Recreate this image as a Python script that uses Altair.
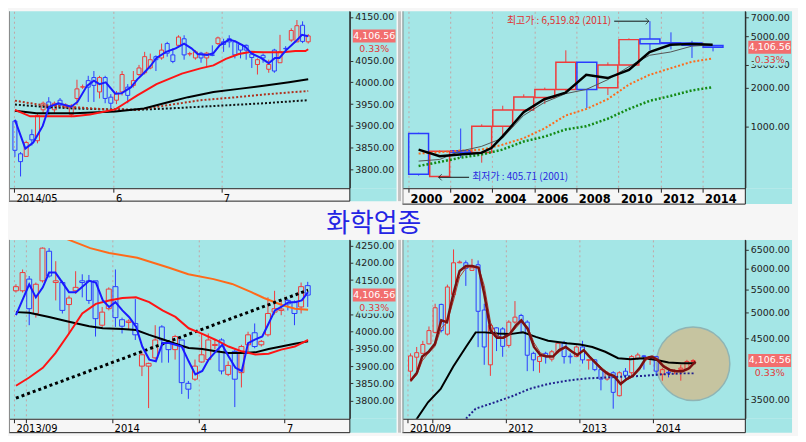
import altair as alt
import pandas as pd

CYAN = "#a4e6e6"
UP = "#f03a3a"
DOWN = "#2a3cff"
FONT = "DejaVu Sans"
KFONT = "Noto Sans CJK KR"

TITLE = ["화학업종"]
LAST_PRICE = [4106.56]
PRICE_TEXT = ["4,106.56"]
CHANGE_TEXT = ["0.33%"]

# ---------------- Panel 1 : daily ----------------
d_x = list(range(53))
d_open = [3911,3836,3830,3880,3866,3937,3955,3937,3959,3944,3926,3963,3989,4004,4011,3978,4011,3966,3959,3978,
          3989,3993,4018,4022,4033,4059,4056,4089,4063,4085,4100,4065,4056,4067,4056,4063,4089,4093,4100,4093,
          4087,4085,4065,4041,4062,4030,4074,4045,4078,4097,4093,4131,4093]
d_close = [3844,3818,3862,3868,3924,3952,3940,3952,3948,3948,3946,3985,3990,3989,3993,4011,3963,3952,3974,4018,
           3970,4004,4033,4059,4052,4052,4074,4067,4048,4104,4063,4066,4070,4056,4067,4062,4102,4087,4093,4063,
           4074,4074,4057,4052,4056,4041,4026,4070,4077,4119,4130,4094,4106.56]
d_high = [3914,3840,3866,3892,3928,3956,3966,3956,3964,3952,3950,4006,3995,4015,4026,4015,4015,3973,3980,4026,
          3996,4026,4040,4070,4066,4062,4089,4093,4078,4108,4108,4070,4074,4070,4070,4085,4105,4100,4108,4097,
          4089,4087,4068,4055,4066,4052,4077,4109,4083,4124,4143,4140,4111]
d_low = [3829,3784,3829,3855,3860,3930,3926,3930,3940,3940,3920,3948,3985,3955,3955,3963,3952,3940,3950,3970,
         3952,3988,4015,4018,4030,4026,4052,4059,4044,4080,4052,4060,4052,4045,4037,4060,4086,4070,4080,4055,
         4055,4052,4033,4018,4045,4022,4022,4045,4070,4093,4092,4090,4089]
d_ma5_x = [0,1.85,3.25,4.93,6.05,7.73,9.97,11.09,12.77,14.0,15.0,16.1,17.8,18.9,20.6,21.7,22.9,24.0,25.1,26.8,
           28.5,30.0,31.3,32.4,34.1,35.2,36.3,38.0,39.1,40.8,41.9,43.6,45.0,46.1,46.9,48.1,49.7,50.9,52.0]
d_ma5_y = [3914,3848,3862,3900,3944,3952,3944,3955,3992,4004,3996,4000,3974,3975,3989,4007,4022,4037,4056,4070,
           4078,4089,4078,4065,4063,4067,4085,4098,4094,4082,4067,4056,4044,4056,4056,4074,4093,4109,4106]
d_ma20_x = [0,2.7,6.05,10.5,13.3,17.8,19.5,21.7,25.1,29.6,32.9,35.2,37.4,39.7,41.9,44.1,47.5,49.7,51.5,52.0]
d_ma20_y = [3937,3922,3922,3922,3926,3938,3952,3970,3996,4020,4032,4039,4054,4065,4070,4069,4069,4072,4072,4076]
d_ma60_x = [0,3.8,10.5,17.8,22.9,27.3,30.7,35.2,39.7,44.1,48.6,52.0]
d_ma60_y = [3935,3929,3929,3933,3940,3955,3966,3978,3985,3992,4000,4007]
d_ma120_x = [0,2.7,4.9,10.5,16.1,21.7,27.3,32.9,38.5,44.1,49.7,52.0]
d_ma120_y = [3958,3952,3948,3943,3938,3937,3948,3959,3965,3972,3978,3980]
d_ma240_x = [0,4.9,10.5,16.1,21.7,27.3,32.9,38.5,44.1,49.7,52.0]
d_ma240_y = [3949,3944,3940,3938,3937,3940,3944,3948,3952,3957,3959]
d_ticks = [-0.17, 17.5, 36.6]
d_labels = ["2014/05", "6", "7"]
d_yticks = [3800,3850,3900,3950,4000,4050,4150]

# ---------------- Panel 2 : yearly (log) ----------------
y_x = [2000.5 + k for k in range(15)]
y_open = [885,412,650,630,1006,1344,1676,1936,3134,1993,2985,4753,4440,4432,4230]
y_close = [429,644,630,1006,1344,1693,1936,3134,1936,2985,4697,4356,4390,4250,4106.56]
y_high = [896,655,966,1041,1449,1774,2000,3882,3150,3134,4808,6519.82,5347,4600,4250]
y_low = [418,405.71,573,526,860,1254,1492,1827,1391,1753,2960,3882,3945,3390,3811]
y_ma3_x = [2000.5,2001.5,2002.45,2003.48,2003.96,2004.48,2005.49,2006.48,2007.49,2008.47,2009.49,2010.5,
           2010.95,2011.48,2012.48,2013.49,2014.48]
y_ma3_y = [663,590,608,626,682,836,1290,1627,1826,2512,2371,2740,3167,3768,4280,4355,4280]
y_mx = [2000.5,2001.5,2002.45,2003.48,2004.48,2005.49,2006.48,2007.49,2008.47,2009.49,2010.5,2011.48,
        2012.48,2013.49,2014.48]
y_ma5_y = [541,557,644,702,812,1218,1536,1796,1936,2303,2903,3556,3768,4182,4280]
y_ma10_y = [619,633,652,663,723,812,966,1218,1367,1627,2111,2512,2820,3167,3357]
y_ma20_y = [496,532,573,608,663,766,836,949,1006,1149,1367,1580,1724,1902,2015]
y_ticks = [2000,2002,2004,2006,2008,2010,2012,2014]
y_labels = ["2000","2002","2004","2006","2008","2010","2012","2014"]
y_yticks = [1000,2000,3000,5000,7000]
hi_text = ["최고가 : 6,519.82 (2011)"]
lo_text = ["최저가 : 405.71 (2001)"]
hi_pos = [2009.65, 2009.8, 2011.45, 6519.82]   # text end, arrow start, arrow tip, value
lo_pos = [2003.05, 2002.9, 2001.45, 405.71]

# ---------------- Panel 3 : weekly ----------------
w_x = list(range(45))
w_open = [4119,4119,4153,4053,4148,4234,4143,4143,4079,4119,4148,4148,4148,4019,4067,4131,4035,4027,4024,3900,
          3900,3924,4014,3967,3948,3976,3850,3862,3912,3919,3960,3976,3876,3943,3881,3962,3997,3962,3991,4057,
          4062,4091,4086,4072,4134]
w_close = [4131,4172,4067,4138,4243,4162,4148,4062,4098,4129,4143,4091,4038,4057,4124,4041,4016,4031,3991,3933,
           3908,3976,3976,3948,3986,3852,3833,3900,3933,3976,3963,3886,3902,3862,3957,3991,3957,3972,4053,4067,
           4066,4081,4053,4131,4106.56]
w_high = [4138,4181,4162,4143,4245,4243,4205,4148,4105,4176,4167,4165,4148,4072,4129,4181,4041,4036,4095,3943,
          3910,4019,4019,3972,3991,3976,3857,3919,3995,3995,3976,3981,3914,3948,3962,4000,4024,3976,4100,4119,
          4091,4095,4091,4143,4145]
w_low = [4114,4114,4019,4041,4143,4157,4091,4053,3995,4110,4100,4081,3986,4014,4062,4014,3995,4007,3976,3871,
         3778,3919,3910,3910,3919,3819,3805,3857,3910,3914,3948,3876,3871,3781,3838,3943,3952,3957,3986,4050,
         4048,4062,4019,4053,4072]
w_ma5_x = [0,2.0,3.0,4.05,5.0,5.95,8.0,9.05,11.05,12.05,13.1,14.05,15.0,16.05,17.05,18.1,19.05,20.1,21.1,22.1,
           23.1,24.05,25.0,26.05,27.05,28.1,29.05,30.15,31.1,32.05,33.1,34.05,35.0,36.1,37.15,38.1,39.05,40.0,
           41.1,42.05,43.1,44.05]
w_ma5_y = [4048,4138,4100,4129,4172,4172,4115,4115,4148,4143,4091,4072,4086,4062,4043,4015,3957,3919,3914,3967,
           3967,3962,3957,3914,3876,3886,3919,3943,3962,3929,3895,3886,3967,3978,3986,4024,4062,4072,4086,4086,
           4091,4115]
w_ma20_x = [0,2.0,4.05,5.95,8.0,10.0,12.05,14.05,16.05,18.1,20.1,22.1,24.05,26.05,28.1,30.15,32.05,34.05,36.1,
            38.1,40.0,42.05,43.1,44.05]
w_ma20_y = [3843,3867,3895,3938,3995,4053,4081,4091,4098,4100,4086,4062,4043,4010,3994,3976,3957,3943,3934,
            3936,3948,3957,3967,3976]
w_ma60_x = [0,2.0,5.0,8.0,11.05,13.1,16.05,18.1,20.1,22.1,24.05,26.05,28.1,30.15,32.05,34.05,36.1,38.1,40.0,
            42.05,44.05]
w_ma60_y = [4057,4055,4043,4029,4016,4010,4008,4005,3991,3978,3965,3953,3950,3943,3938,3938,3940,3950,3957,
            3965,3972]
w_ma120_x = [5.0,8.0,11.2,14.05,18.3,23.1,26.0,29.8,32.6,35.5,37.4,40.2,42.1,44.05]
w_ma120_y = [4291,4267,4243,4229,4215,4186,4167,4153,4139,4115,4098,4077,4067,4064]
w_trend_x = [0, 44.05]
w_trend_y = [3807, 4121]
w_ticks = [-0.3, 1.5, 14.5, 27.5, 40.5]
w_labels = ["2013/09", "", "2014", "4", "7"]
w_yticks = [3800,3850,3900,3950,4000,4050,4150,4200,4250]

# ---------------- Panel 4 : monthly (log) ----------------
m_x = list(range(47))
m_open = [3929,4163,4230,4399,4613,5178,4580,5393,6150,6150,5960,6100,5060,4034,4700,4680,4371,4813,4947,4813,
          4230,4090,4230,4130,4258,4411,4180,4174,4343,4110,4118,3955,3803,3904,3550,3929,3904,4146,4186,4146,
          4174,3880,3910,3925,3955,3955,4090]
m_close = [4185,4242,4388,4647,5107,4647,5565,6150,6170,6010,6025,5033,4343,4747,4540,4354,4813,4913,4813,4197,
           4118,4174,4186,4258,4411,4174,4170,4343,4118,4120,3955,3803,3904,3600,3904,3863,4174,4202,4174,4174,
           3930,3955,3900,3932,3980,4090,4106.56]
m_high = [4230,4343,4455,4727,5193,5193,5620,6500,6210,6210,6250,6210,5193,4780,4713,4713,4850,5250,4980,4850,
          4258,4220,4258,4290,4430,4455,4230,4370,4455,4130,4130,3980,3929,3929,3929,3980,4202,4240,4202,4186,
          4186,3980,3955,3960,4034,4118,4130]
m_low = [3778,3955,4218,4388,4593,4613,4553,5370,6140,5590,5950,4340,4034,3854,4270,4170,4330,4780,4590,3930,
         3930,3904,4055,4090,4230,4055,4055,4163,4055,3955,3929,3630,3778,3365,3540,3778,3855,4118,3955,4034,
         3855,3778,3830,3880,3778,3940,4085]
m_ma3_x = [0,1.03,1.9,2.94,3.97,5.0,5.93,6.96,7.99,9.02,10.05,11.08,12.0,13.04,14.07,15.1,16.13,17.16,18.04,
           19.07,20.1,21.13,22.16,23.2,24.2,25.26,26.3,27.16,28.2,29.12,30.15,31.2,32.2,33.1,34.2,35.2,36.2,37.3,
           38.3,39.3,40.2,41.2,42.3,43.3,44.3,45.4,46.4]
m_ma3_y = [3778,3904,4174,4258,4399,4847,4813,5407,5945,6067,6067,6025,5407,4647,4513,4513,4580,4747,4847,4680,
           4343,4202,4174,4174,4287,4343,4258,4202,4287,4174,4062,3955,3879,3854,3727,3803,3854,3980,4146,4174,
           4118,4006,3945,3929,3929,3980,4090]
m_ma5_y = [3760,3870,4100,4240,4350,4700,4800,5250,5800,6020,6067,6040,5600,4800,4560,4500,4560,4700,4820,4720,
           4420,4240,4190,4174,4260,4330,4270,4210,4270,4190,4080,3980,3900,3860,3750,3790,3840,3950,4110,4170,
           4130,4030,3960,3935,3930,3970,4075]
m_ma12_x = [0.3,1.03,2.84,4.9,6.96,9.02,10.6,12.1,14.2,16.2,18.3,20.4,22.4,25.5,27.6,29.6,31.7,33.8,35.8,37.9,
            39.9,42.0,44.1,46.4]
m_ma12_y = [3150,3228,3455,3650,4006,4343,4613,4613,4593,4580,4613,4527,4455,4410,4388,4343,4258,4146,4129,4146,
            4118,4073,4062,4062]
m_ma36_x = [8.5,9.02,10.6,13.7,16.75,19.3,22.4,25.5,28.6,31.7,34.8,37.9,41.0,44.1,46.4]
m_ma36_y = [3200,3228,3365,3455,3550,3650,3727,3778,3813,3828,3843,3854,3879,3894,3894]
m_ticks = [-0.5, 3.5, 15.5, 27.5, 39.5]
m_labels = ["2010/09", "", "2012", "2013", "2014"]
m_yticks = [3500,4500,5000,5500,6000,6500]
circle_pos = [46.0, 4051]


def label_expr(vals, labels):
    expr = "''"
    for v, l in reversed(list(zip(vals, labels))):
        expr = f"datum.value == {v} ? '{l}' : ({expr})"
    return expr


def candles_df(x, o, h, l, c):
    df = pd.DataFrame({"x": x, "o": o, "h": h, "l": l, "c": c})
    df["top"] = df[["o", "c"]].max(axis=1)
    df["bot"] = df[["o", "c"]].min(axis=1)
    df["dir"] = ["up" if cc >= oo else "down" for oo, cc in zip(o, c)]
    return df


def build_panel(W, P, H, band, xdom, ydom, ylog, yticks, xticks, xlabels, cdf, lines,
                body_w, body_sw=1.0, xfs=10, xbold=False, pre=None, post=None, sep=False):
    xs = alt.Scale(domain=xdom, range=[0, P], nice=False, zero=False)
    ys = alt.Scale(domain=ydom, type="log" if ylog else "linear", nice=False, zero=False)
    xax = alt.Axis(values=xticks, labelExpr=label_expr(xticks, xlabels), grid=True, gridDash=[2, 3],
                   gridColor="#c4a4a4", tickSize=4, tickColor="#222", domainColor="#222",
                   labelAlign="left", labelBaseline="top", labelPadding=1, labelOffset=2,
                   labelFont=FONT, labelFontSize=xfs, labelFontWeight="bold" if xbold else "normal",
                   labelColor="black", labelOverlap=False, labelFlush=False, title=None)
    yax = alt.Axis(orient="right", offset=-(W - P), values=yticks, format=".2f", grid=False,
                   tickSize=3, tickColor="#333", domainColor="#333", labelFont=FONT,
                   labelFontSize=9.5, labelColor="#222", labelPadding=2, labelOverlap=False, title=None)

    def X(f):
        return alt.X(f"{f}:Q", scale=xs, axis=xax, title=None)

    def Y(f):
        return alt.Y(f"{f}:Q", scale=ys, axis=yax, title=None)

    col = alt.Color("dir:N", scale=alt.Scale(domain=["up", "down"], range=[UP, DOWN]), legend=None)
    stk = alt.Stroke("dir:N", scale=alt.Scale(domain=["up", "down"], range=[UP, DOWN]), legend=None)

    layers = []
    if pre:
        layers += pre(X, Y)
    base = alt.Chart(cdf)
    layers.append(base.mark_rule(strokeWidth=1).encode(x=X("x"), y=Y("top"), y2="h", color=col))
    layers.append(base.mark_rule(strokeWidth=1).encode(x=X("x"), y=Y("bot"), y2="l", color=col))
    layers.append(base.mark_bar(size=body_w, fill="transparent", strokeWidth=body_sw)
                  .encode(x=X("x"), y=Y("o"), y2="c", stroke=stk))
    for xl, yl, color, width, dash in lines:
        kw = dict(color=color, strokeWidth=width, clip=True)
        if dash:
            kw["strokeDash"] = dash
        layers.append(alt.Chart(pd.DataFrame({"x": xl, "y": yl})).mark_line(**kw)
                      .encode(x=X("x"), y=Y("y")))
    if post:
        layers += post(X, Y)

    pdf = pd.DataFrame({"y": LAST_PRICE, "t": PRICE_TEXT, "p": CHANGE_TEXT})
    pc = alt.Chart(pdf)
    layers.append(pc.mark_rect(color=CYAN).encode(x=alt.value(P), x2=alt.value(W),
                                                   y=alt.value(H), y2=alt.value(H + band)))
    layers.append(pc.mark_rule(color="#222").encode(x=alt.value(0), x2=alt.value(P), y=alt.value(H + band)))
    layers.append(pc.mark_rule(color="#222").encode(x=alt.value(P), y=alt.value(0), y2=alt.value(H + band)))
    layers.append(pc.mark_rule(color="#8a8a8a").encode(x=alt.value(0.5), y=alt.value(0), y2=alt.value(H + band)))
    if sep:
        layers.append(pc.mark_rule(color="#c2c2c2", strokeWidth=3).encode(
            x=alt.value(W + 3), y=alt.value(0), y2=alt.value(H + band)))
    cx = (P + 2 + W) / 2
    layers.append(pc.mark_rule(strokeWidth=11, color=CYAN, yOffset=13).encode(
        x=alt.value(cx - 16), x2=alt.value(cx + 16), y=Y("y")))
    layers.append(pc.mark_rule(strokeWidth=13, color="#f26e6e").encode(
        x=alt.value(P + 3), x2=alt.value(W - 1), y=Y("y")))
    layers.append(pc.mark_text(color="white", font=FONT, fontSize=9.5, align="center", baseline="middle")
                  .encode(x=alt.value(cx), y=Y("y"), text="t:N"))
    layers.append(pc.mark_text(color="#e23a3a", font=FONT, fontSize=9.5, align="center", baseline="middle", dy=13)
                  .encode(x=alt.value(cx), y=Y("y"), text="p:N"))
    return alt.layer(*layers).properties(width=W, height=H)


# ---- panel 1
p1 = build_panel(390, 343, 178, 13, [-0.17, 58.5], [3757, 4163], False, d_yticks, d_ticks, d_labels,
                 candles_df(d_x, d_open, d_high, d_low, d_close),
                 [(d_ma240_x, d_ma240_y, "#111111", 2, [2, 2]),
                  (d_ma120_x, d_ma120_y, "#b0301c", 2, [2, 2]),
                  (d_ma60_x, d_ma60_y, "#000000", 2, None),
                  (d_ma20_x, d_ma20_y, "#ff1414", 2, None),
                  (d_ma5_x, d_ma5_y, "#1a1aff", 2, None)],
                 body_w=4, sep=True)


# ---- panel 2
def p2_post(X, Y):
    hi = pd.DataFrame({"x": [hi_pos[0]], "xa": [hi_pos[1]], "xt": [hi_pos[2]], "y": [hi_pos[3]], "t": hi_text})
    lo = pd.DataFrame({"x": [lo_pos[0]], "xa": [lo_pos[1]], "xt": [lo_pos[2]], "y": [lo_pos[3]], "t": lo_text})
    out = []
    out.append(alt.Chart(hi).mark_text(font=KFONT, fontSize=10, color="#e03030", align="right", baseline="middle")
               .encode(x=X("x"), y=Y("y"), text="t:N"))
    out.append(alt.Chart(hi).mark_rule(color="#111", strokeWidth=1).encode(x=X("xa"), x2="xt", y=Y("y")))
    out.append(alt.Chart(hi).mark_point(shape="M-1,-1L0,0L-1,1", size=40, filled=False, color="#111",
                                         strokeWidth=1).encode(x=X("xt"), y=Y("y")))
    out.append(alt.Chart(lo).mark_text(font=KFONT, fontSize=10, color="#2a2ae0", align="left", baseline="middle")
               .encode(x=X("x"), y=Y("y"), text="t:N"))
    out.append(alt.Chart(lo).mark_rule(color="#111", strokeWidth=1).encode(x=X("xt"), x2="xa", y=Y("y")))
    out.append(alt.Chart(lo).mark_point(shape="M1,-1L0,0L1,1", size=40, filled=False, color="#111",
                                         strokeWidth=1).encode(x=X("xt"), y=Y("y")))
    return out


p2 = build_panel(392, 345, 178, 16, [1999.97, 2015.8], [334, 7770], True, y_yticks, y_ticks, y_labels,
                 candles_df(y_x, y_open, y_high, y_low, y_close),
                 [(y_mx, y_ma20_y, "#148a14", 2.5, [2, 2]),
                  (y_mx, y_ma10_y, "#ff6a1a", 2, [2, 2]),
                  (y_mx, y_ma5_y, "#555555", 1, None),
                  (y_ma3_x, y_ma3_y, "#000000", 2.5, None)],
                 body_w=20, body_sw=1.5, xfs=11.5, xbold=True, post=p2_post)


# ---- panel 3
def p3_post(X, Y):
    return [alt.Chart(pd.DataFrame({"t": TITLE})).mark_text(
        font=KFONT, fontSize=26, color="#2424e4", align="center", baseline="middle")
        .encode(x=alt.value(367), y=alt.value(-16), text="t:N")]


p3 = build_panel(390, 343, 180, 14, [-0.3, 49.6], [3747, 4267], False, w_yticks, w_ticks, w_labels,
                 candles_df(w_x, w_open, w_high, w_low, w_close),
                 [(w_ma120_x, w_ma120_y, "#ff6a1a", 2, None),
                  (w_trend_x, w_trend_y, "#000000", 3, [3, 3]),
                  (w_ma60_x, w_ma60_y, "#000000", 2, None),
                  (w_ma20_x, w_ma20_y, "#ff1414", 2, None),
                  (w_ma5_x, w_ma5_y, "#1a1aff", 2, None)],
                 body_w=5, post=p3_post, sep=True)


# ---- panel 4
def p4_pre(X, Y):
    cdf = pd.DataFrame({"x": [circle_pos[0]], "y": [circle_pos[1]]})
    return [alt.Chart(cdf).mark_point(shape="circle", size=5476, filled=True, fill="#c6c4a0",
                                       stroke="#8fb4b4", strokeWidth=1.5, opacity=1)
            .encode(x=X("x"), y=Y("y"))]


p4 = build_panel(392, 345, 180, 14, [-0.5, 53.7], [3228, 6761], True, m_yticks, m_ticks, m_labels,
                 candles_df(m_x, m_open, m_high, m_low, m_close),
                 [(m_ma36_x, m_ma36_y, "#20208e", 2, [2, 2]),
                  (m_ma12_x, m_ma12_y, "#000000", 2, None),
                  (m_ma3_x, m_ma5_y, "#b04030", 1, None),
                  (m_ma3_x, m_ma3_y, "#7a1010", 2.5, None)],
                 body_w=4, pre=p4_pre)

chart = (alt.concat(p1, p2, p3, p4, columns=2, spacing={"row": 52, "column": 6}, bounds="flush")
         .properties(padding=0, background="#f6f6f6")
         .configure_view(stroke=None, fill=CYAN))

chart.save("out.html", embed_options={"renderer": "svg", "actions": False})
